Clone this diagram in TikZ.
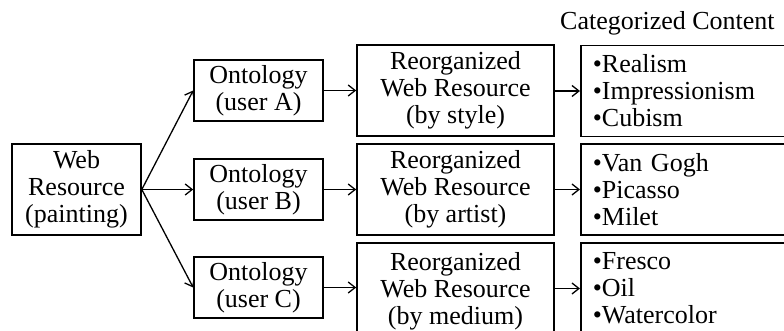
\documentclass[tikz,border=0pt]{standalone}
\usepackage{fontspec}
\setmainfont{Liberation Serif}
\usetikzlibrary{arrows.meta}
\begin{document}
\begin{tikzpicture}[x=1pt,y=-1pt,
  box/.style={draw=black,line width=1.6pt,inner sep=0pt,align=center,
    font=\fontsize{26}{27}\selectfont},
  conn/.style={line width=1.3pt,-{Straight Barb[length=7pt,width=11pt,line width=1.3pt]}},
  every node/.style={text=black}]
\clip (0,0) rectangle (784,331);
\fill[white] (0,0) rectangle (784,331);
% left
\node[box,minimum width=129pt,minimum height=91pt] (web) at (76.5,189.5) {Web\\Resource\\(painting)};
% ontologies
\node[box,minimum width=129pt,minimum height=61pt] (oa) at (258.5,90.5) {Ontology\\(user A)};
\node[box,minimum width=129pt,minimum height=61pt] (ob) at (258.5,189.5) {Ontology\\(user B)};
\node[box,minimum width=129pt,minimum height=61pt] (oc) at (258.5,287.5) {Ontology\\(user C)};
% reorganized
\node[box,minimum width=197pt,minimum height=91pt] (ra) at (455.5,90.5) {Reorganized\\Web Resource\\(by style)};
\node[box,minimum width=197pt,minimum height=91pt] (rb) at (455.5,189.5) {Reorganized\\Web Resource\\(by artist)};
\node[box,minimum width=197pt,minimum height=91pt,text depth=0pt] (rc) at (455.5,288.5) {Reorganized\\Web Resource\\(by medium)};
% contents
\node[box,minimum width=210pt,minimum height=91pt,text width=186pt,align=left,inner xsep=12pt,anchor=west] (ca) at (580,91) {•Realism\\•Impressionism\\•Cubism};
\node[box,minimum width=210pt,minimum height=91pt,text width=186pt,align=left,inner xsep=12pt,anchor=west] (cb) at (580,189.5) {•Van Gogh\\•Picasso\\•Milet};
\node[box,minimum width=210pt,minimum height=91pt,text width=186pt,align=left,inner xsep=12pt,anchor=west] (cc) at (580,288.5) {•Fresco\\•Oil\\•Watercolor};
\node[font=\fontsize{26}{27}\selectfont,anchor=base west,inner sep=0pt] (title) at (560,30) {Categorized Content};
% connectors
\draw[conn] (web.east) -- (oa.west);
\draw[conn] (web.east) -- (ob.west);
\draw[conn] (web.east) -- (oc.west);
\draw[conn] (oa.east) -- (ra.west |- oa.east);
\draw[conn] (ob.east) -- (rb.west |- ob.east);
\draw[conn] (oc.east) -- (rc.west |- oc.east);
\draw[conn] (ra.east |- ca.west) -- (ca.west);
\draw[conn] (rb.east |- cb.west) -- (cb.west);
\draw[conn] (rc.east |- cc.west) -- (cc.west);
\end{tikzpicture}
\end{document}
